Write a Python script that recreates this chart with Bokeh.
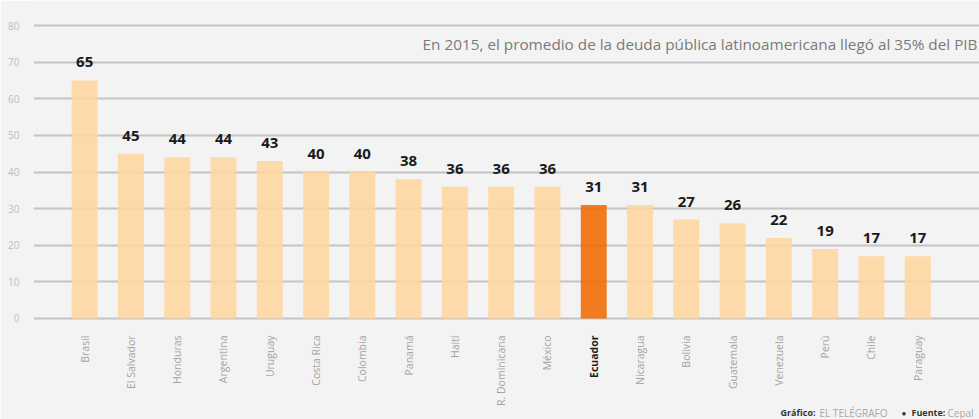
import numpy as np
from bokeh.plotting import figure
from bokeh.models import Range1d, ColumnDataSource, FixedTicker
from bokeh.core.properties import value
from bokeh.embed import file_html
from bokeh.resources import INLINE

countries = ["Brasil", "El Salvador", "Honduras", "Argentina", "Uruguay", "Costa Rica",
             "Colombia", "Panamá", "Haití", "R. Dominicana", "México", "Ecuador",
             "Nicaragua", "Bolivia", "Guatemala", "Venezuela", "Perú", "Chile", "Paraguay"]
values = [65, 45, 44, 44, 43, 40, 40, 38, 36, 36, 36, 31, 31, 27, 26, 22, 19, 17, 17]
highlight = "Ecuador"
y_ticks = [0, 10, 20, 30, 40, 50, 60, 70, 80]
note = "En 2015, el promedio de la deuda pública latinoamericana llegó al 35% del PIB"
foot_t = ["Gráfico:", "EL TELÉGRAFO", "●", "Fuente:", "Cepal"]

BG = "#f3f3f3"
W, H = 979, 419
LEFT = 33
X0, X1 = -1.105, 19.335
Y0, Y1 = -27.58, 86.83

idx = list(range(len(countries)))
colors = ["#f06a00" if c == highlight else "#ffd6a0" for c in countries]
lab_colors = ["#1e1e1e" if c == highlight else "#a3a3a3" for c in countries]
lab_styles = ["bold" if c == highlight else "normal" for c in countries]

src = ColumnDataSource(dict(x=idx, top=values, color=colors, name=countries,
                            lab=[str(v) for v in values], lc=lab_colors, ls=lab_styles))

p = figure(width=W, height=H, output_backend="svg", toolbar_location=None,
           x_range=Range1d(X0, X1), y_range=Range1d(Y0, Y1),
           min_border_left=LEFT, min_border_right=0, min_border_top=0, min_border_bottom=0)
p.background_fill_color = BG
p.border_fill_color = BG
p.outline_line_color = None

p.vbar(x="x", top="top", width=0.56, bottom=0, fill_color="color", fill_alpha=0.88,
       line_color=None, source=src)

p.text(x="x", y="top", text="lab", source=src, text_align="center", text_baseline="middle",
       y_offset=-18, text_font=value("Open Sans"), text_font_style="bold",
       text_font_size="15px", text_color="#1a1a1a")

p.text(x="x", y=0, text="name", source=src, angle=np.pi / 2, text_align="right",
       text_baseline="middle", y_offset=17, text_font=value("Open Sans"),
       text_font_size="10.5px", text_color="lc", text_font_style="ls")

p.xaxis.visible = False
p.xgrid.visible = False
p.yaxis.ticker = FixedTicker(ticks=y_ticks)
p.yaxis.axis_line_color = None
p.yaxis.major_tick_line_color = None
p.yaxis.minor_tick_line_color = None
p.yaxis.major_label_text_font = "Open Sans"
p.yaxis.major_label_text_font_size = "10px"
p.yaxis.major_label_text_color = "#bdbdbd"
p.yaxis.major_label_standoff = 8
p.ygrid.ticker = FixedTicker(ticks=y_ticks)
p.ygrid.grid_line_color = "#c4c4c4"
p.ygrid.grid_line_width = 1.8

frame_w = W - LEFT


def dx(px):
    return X0 + (px - LEFT) / frame_w * (X1 - X0)


def dy(py):
    return Y1 - py / H * (Y1 - Y0)


p.text(x=[dx(977)], y=[dy(43)], text=[note], text_align="right", text_baseline="middle",
       text_font=value("Open Sans"), text_font_size="15.3px", text_color="#7a7a7a")

foot_px = [780, 819, 901, 911, 947]
foot_c = ["#333333", "#a8a8a8", "#333333", "#333333", "#a8a8a8"]
foot_s = ["bold", "normal", "normal", "bold", "normal"]
foot_f = ["9px", "10px", "8px", "9px", "10px"]
fsrc = ColumnDataSource(dict(x=[dx(v) for v in foot_px], y=[dy(412)] * len(foot_t),
                             t=foot_t, c=foot_c, s=foot_s, f=foot_f))
p.text(x="x", y="y", text="t", source=fsrc, text_align="left", text_baseline="middle",
       text_font=value("Open Sans"), text_font_size="f", text_color="c",
       text_font_style="s")

open("out.html", "w").write(file_html(p, INLINE))
